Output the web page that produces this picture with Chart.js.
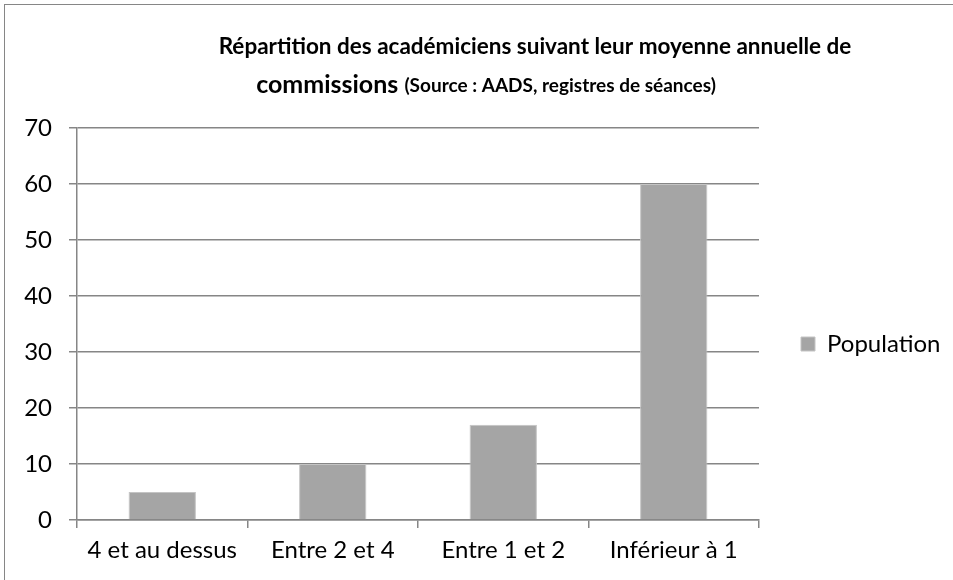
<!DOCTYPE html>
<html>
<head>
<meta charset="utf-8">
<script src="https://cdn.jsdelivr.net/npm/chart.js@4.4.0/dist/chart.umd.min.js"></script>
<style>
  html, body { margin: 0; padding: 0; background: #fff; }
  #wrap { position: relative; width: 953px; height: 580px; overflow: hidden; }
  #frame { position: absolute; left: 4px; top: 4px; width: 1000px; height: 700px;
           border-left: 1px solid #868686; border-top: 1px solid #868686; }
  canvas { position: absolute; left: 0; top: 0; }
</style>
</head>
<body>
<div id="wrap">
  <div id="frame"></div>
  <canvas id="chart" width="953" height="580"></canvas>
</div>
<script>
// data
const categories = ["4 et au dessus", "Entre 2 et 4", "Entre 1 et 2", "Inférieur à 1"];
const population = [5, 10, 17, 60];
const seriesName = "Population";
const titleLine1 = "Répartition des académiciens suivant leur moyenne annuelle de";
const titleLine2a = "commissions ";
const titleLine2b = "(Source : AADS, registres de séances)";

const FONT = "Lato, 'Open Sans', sans-serif";
const AXIS = "#868686";

// title with two font sizes on line 2 (Chart.js title can't mix sizes)
const mixedTitle = {
  id: "mixedTitle",
  afterInit(chart) {
    // legend keeps the whole strip right of the plot
    const lg = chart.legend;
    const fit = lg.fit;
    lg.fit = function () { fit.call(this); this.width = 194; };
  },
  afterLayout(chart) {
    chart.legend.top -= 10;
    chart.legend.bottom -= 10;
  },
  afterDraw(chart) {
    const ctx = chart.ctx;
    ctx.save();
    ctx.fillStyle = "#000";
    ctx.textBaseline = "middle";
    ctx.textAlign = "left";
    ctx.font = "bold 22.5px " + FONT;
    let w1 = ctx.measureText(titleLine1).width;
    ctx.fillText(titleLine1, 535 - w1 / 2, 47);

    ctx.font = "bold 25px " + FONT;
    const wa = ctx.measureText(titleLine2a).width;
    ctx.font = "bold 19px " + FONT;
    const wb = ctx.measureText(titleLine2b).width;
    let x = 486 - (wa + wb) / 2;
    ctx.font = "bold 25px " + FONT;
    ctx.fillText(titleLine2a, x, 85);
    ctx.font = "bold 19px " + FONT;
    ctx.fillText(titleLine2b, x + wa, 86);
    ctx.restore();
  }
};

new Chart(document.getElementById("chart"), {
  type: "bar",
  data: {
    labels: categories,
    datasets: [{
      label: seriesName,
      data: population,
      backgroundColor: "#a5a5a5",
      borderColor: "#c4c4c4",
      borderWidth: 1,
      categoryPercentage: 1,
      barPercentage: 0.395
    }]
  },
  options: {
    responsive: false,
    animation: false,
    layout: { padding: { top: 128, bottom: 0, left: 0, right: 0 } },
    plugins: {
      title: { display: false },
      tooltip: { enabled: false },
      legend: {
        position: "right",
        labels: {
          color: "#000",
          font: { family: FONT, size: 24 },
          boxWidth: 14,
          boxHeight: 14,
          padding: 42
        }
      }
    },
    scales: {
      x: {
        offset: true,
        grid: { offset: true, drawOnChartArea: false, drawTicks: true, tickLength: 8, color: AXIS, lineWidth: 1.5 },
        border: { color: AXIS, width: 1.5 },
        ticks: { color: "#000", font: { family: FONT, size: 24 }, padding: 8, maxRotation: 0 },
        afterFit(s) { s.height = 60; }
      },
      y: {
        min: 0,
        max: 70,
        ticks: { stepSize: 10, color: "#000", font: { family: FONT, size: 24 }, padding: 17 },
        grid: { color: AXIS, lineWidth: 1.5, tickLength: 8 },
        border: { color: AXIS, width: 1.5 },
        afterFit(s) { s.width = 77; }
      }
    }
  },
  plugins: [mixedTitle]
});
</script>
</body>
</html>
